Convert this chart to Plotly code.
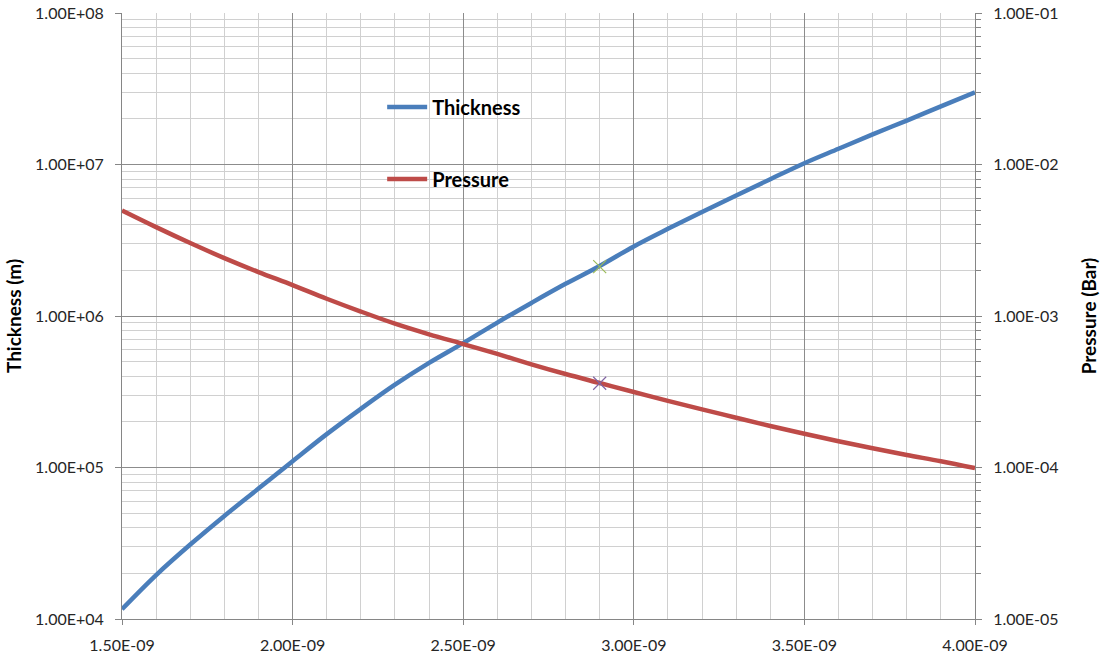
import plotly.graph_objects as go

# Shared x values (same for both series)
x_values = [1.5e-9, 1.6e-9, 1.7e-9, 1.8e-9, 1.9e-9, 2.0e-9, 2.1e-9, 2.2e-9, 2.3e-9,
            2.4e-9, 2.5e-9, 2.6e-9, 2.7e-9, 2.8e-9, 2.9e-9, 3.0e-9, 3.1e-9, 3.2e-9,
            3.3e-9, 3.4e-9, 3.5e-9, 3.6e-9, 3.7e-9, 3.8e-9, 3.9e-9, 4.0e-9]

# Thickness (m), left log axis
thickness_m = [1.16e4, 1.95e4, 3.10e4, 4.79e4, 7.26e4, 1.10e5, 1.66e5, 2.44e5, 3.52e5,
               4.90e5, 6.62e5, 9.05e5, 1.22e6, 1.63e6, 2.14e6, 2.88e6, 3.76e6, 4.86e6,
               6.25e6, 8.00e6, 1.02e7, 1.27e7, 1.58e7, 1.95e7, 2.42e7, 2.99e7]

# Pressure (Bar), right log axis
pressure_bar = [4.97e-3, 3.86e-3, 3.03e-3, 2.41e-3, 1.95e-3, 1.60e-3, 1.30e-3, 1.07e-3, 8.90e-4,
                7.57e-4, 6.53e-4, 5.62e-4, 4.80e-4, 4.14e-4, 3.61e-4, 3.15e-4, 2.75e-4, 2.42e-4,
                2.13e-4, 1.88e-4, 1.67e-4, 1.49e-4, 1.34e-4, 1.21e-4, 1.10e-4, 9.9e-5]

# Highlighted operating point
point_x = [2.9e-9]
point_thickness = [2.12e6]
point_pressure = [3.6e-4]

# Tick values and labels
x_tick_vals = [1.5e-9, 2.0e-9, 2.5e-9, 3.0e-9, 3.5e-9, 4.0e-9]
x_tick_text = ["1.50E-09", "2.00E-09", "2.50E-09", "3.00E-09", "3.50E-09", "4.00E-09"]
y_left_vals = [1e4, 1e5, 1e6, 1e7, 1e8]
y_left_text = ["1.00E+04", "1.00E+05", "1.00E+06", "1.00E+07", "1.00E+08"]
y_right_vals = [1e-5, 1e-4, 1e-3, 1e-2, 1e-1]
y_right_text = ["1.00E-05", "1.00E-04", "1.00E-03", "1.00E-02", "1.00E-01"]

x_minor_vals = [(15 + i) * 1e-10 for i in range(26)]
y_left_minor = [m * 10 ** d for d in range(4, 8) for m in range(2, 10)]
y_right_minor = [m * 10.0 ** d for d in range(-5, -1) for m in range(2, 10)]

FONT = "Lato"
MAJOR_GRID = "#8c8c8c"
MINOR_GRID = "#d0d0d0"
AXIS_LINE = "#868686"

fig = go.Figure()

fig.add_trace(go.Scatter(
    x=x_values, y=thickness_m, name="Thickness", mode="lines",
    line=dict(color="#4a7ebb", width=4.5, shape="spline", smoothing=1.0), legendgroup="t",
))
fig.add_trace(go.Scatter(
    x=x_values, y=pressure_bar, name="Pressure", mode="lines", yaxis="y2",
    line=dict(color="#be4b48", width=4.5, shape="spline", smoothing=1.0), legendgroup="p",
))
fig.add_trace(go.Scatter(
    x=point_x, y=point_thickness, mode="markers", showlegend=False,
    marker=dict(symbol="x-thin", size=13, line=dict(color="#9bbb59", width=1.2)),
))
fig.add_trace(go.Scatter(
    x=point_x, y=point_pressure, mode="markers", showlegend=False, yaxis="y2",
    marker=dict(symbol="x-thin", size=13, line=dict(color="#8064a2", width=1.2)),
))

fig.update_layout(
    width=1100, height=656,
    margin=dict(l=122, r=125, t=13, b=37),
    paper_bgcolor="white", plot_bgcolor="white",
    font=dict(family=FONT, size=16, color="#262626"),
    xaxis=dict(
        type="linear", range=[1.5e-9, 4.0e-9], automargin=False,
        tickmode="array", tickvals=x_tick_vals, ticktext=x_tick_text,
        showgrid=True, gridcolor=MAJOR_GRID, gridwidth=1,
        minor=dict(tickmode="array", tickvals=x_minor_vals, showgrid=True,
                   gridcolor=MINOR_GRID, gridwidth=1),
        showline=True, linecolor=AXIS_LINE, linewidth=1,
        ticks="outside", ticklen=5, tickcolor=AXIS_LINE,
        ticklabelstandoff=7, zeroline=False,
    ),
    yaxis=dict(
        type="log", range=[4, 8], automargin=False,
        tickmode="array", tickvals=y_left_vals, ticktext=y_left_text,
        showgrid=True, gridcolor=MAJOR_GRID, gridwidth=1,
        minor=dict(tickmode="array", tickvals=y_left_minor, showgrid=True,
                   gridcolor=MINOR_GRID, gridwidth=1),
        showline=True, linecolor=AXIS_LINE, linewidth=1,
        ticks="outside", ticklen=6, tickcolor=AXIS_LINE,
        ticklabelstandoff=8, zeroline=False,
        title=dict(text="<b>Thickness (m)</b>", font=dict(size=19, color="black"), standoff=8),
    ),
    yaxis2=dict(
        type="log", range=[-5, -1], overlaying="y", side="right", automargin=False,
        tickmode="array", tickvals=y_right_vals, ticktext=y_right_text,
        showgrid=False,
        minor=dict(tickmode="array", tickvals=y_right_minor, showgrid=False,
                   ticks="outside", ticklen=5, tickcolor=AXIS_LINE),
        showline=True, linecolor=AXIS_LINE, linewidth=1,
        ticks="outside", ticklen=6, tickcolor=AXIS_LINE,
        ticklabelstandoff=8, zeroline=False,
        title=dict(text="<b>Pressure (Bar)</b>", font=dict(size=19, color="black"), standoff=26),
    ),
    legend=dict(
        x=0.305, y=0.877, xanchor="left", yanchor="top",
        bgcolor="rgba(0,0,0,0)", borderwidth=0, itemwidth=40,
        font=dict(family=FONT, size=20, color="black", weight="bold"),
        tracegroupgap=43, traceorder="grouped",
    ),
)

fig.write_html("out.html")
